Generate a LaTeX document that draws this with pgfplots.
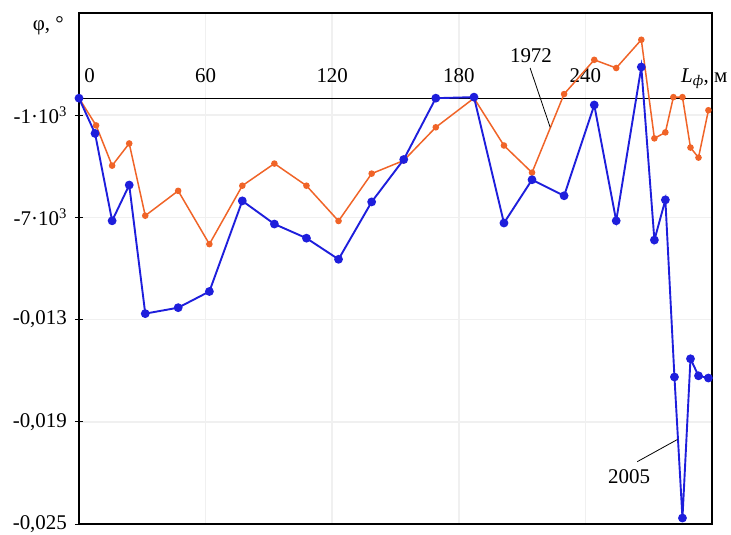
\documentclass[border=0pt]{standalone}
\usepackage{fontspec}
\setmainfont{Liberation Serif}
\usepackage{pgfplots}
\pgfplotsset{compat=1.18}
\definecolor{cblue}{RGB}{30,30,220}
\definecolor{corange}{RGB}{240,100,40}
\begin{document}
\fontsize{21}{24}\selectfont
\begin{tikzpicture}
\useasboundingbox (-79bp,-11bp) rectangle (652bp,524bp);
\begin{axis}[
  at={(0,0)}, anchor=south west,
  scale only axis, width=633bp, height=511bp,
  xmin=0, xmax=300, ymin=-0.025, ymax=0.005,
  clip=false,
  axis line style={line width=1.1bp},
  xtick={60,120,180,240}, xticklabels={},
  major x tick style={draw=none},
  ytick={-0.025,-0.019,-0.013,-0.007,-0.001},
  yticklabels={{-0,025},{-0,019},{-0,013},{-7·10\textsuperscript{3}},{-1·10\textsuperscript{3}}},
  ytick pos=left, tick align=center, major tick length=8bp,
  tick style={black, line width=0.8bp},
  yticklabel style={font=\fontsize{21}{24}\selectfont, xshift=-1bp},
  grid=major, grid style={black!6, line width=1.5bp},
]
\draw[black, line width=0.8bp] (axis cs:0,0) -- (axis cs:300,0);
\draw[black, line width=0.8bp] (axis cs:60,0) ++(0,-4bp) -- ++(0,8bp);
\draw[black, line width=0.8bp] (axis cs:120,0) ++(0,-4bp) -- ++(0,8bp);
\draw[black, line width=0.8bp] (axis cs:180,0) ++(0,-4bp) -- ++(0,8bp);
\draw[black, line width=0.8bp] (axis cs:240,0) ++(0,-4bp) -- ++(0,8bp);
\node[anchor=base] at (axis cs:60,0.0009) {60};
\node[anchor=base] at (axis cs:120,0.0009) {120};
\node[anchor=base] at (axis cs:180,0.0009) {180};
\node[anchor=base] at (axis cs:240,0.0009) {240};
\node[anchor=base] at (axis cs:5,0.0009) {0};
\node[anchor=base west, inner sep=0pt] at (axis cs:285.3,0.0009) {\textit{L}\textsubscript{\textit{ф}}, м};
\node[anchor=base west, inner sep=0pt] at (axis cs:-22,0.0040) {φ, °};

\addplot[corange, line width=1.5bp, mark=*, mark size=2.5bp, mark options={solid, fill=corange}] coordinates {
(0,0) (8.1,-0.0016) (15.7,-0.00396) (23.8,-0.00266) (31.4,-0.0069) (47,-0.00544)
(61.8,-0.00857) (77.4,-0.00514) (92.6,-0.00384) (107.8,-0.00514) (123,-0.00721)
(138.7,-0.00443) (153.9,-0.00366) (169.1,-0.00171) (187.2,0) (201.4,-0.00278)
(214.7,-0.00437) (229.9,0.00024) (244.2,0.00225) (254.6,0.00177) (266.5,0.00343)
(272.7,-0.00236) (277.9,-0.00201) (281.7,0.00006) (286,0.00006) (289.8,-0.0029)
(293.6,-0.00349) (298.3,-0.00071)
};
\addplot[cblue, line width=1.9bp, mark=*, mark size=3.4bp, mark options={solid, fill=cblue}] coordinates {
(0,0) (7.6,-0.00207) (15.7,-0.0072) (23.8,-0.0051) (31.4,-0.01265) (47,-0.0123)
(61.8,-0.01135) (77.4,-0.00603) (92.6,-0.00739) (107.8,-0.00822) (123,-0.00946)
(138.7,-0.00609) (153.9,-0.0036) (169.1,0) (187.2,0.00006) (201.4,-0.00733)
(214.7,-0.00479) (229.9,-0.00573) (244.2,-0.0004) (254.6,-0.0072) (266.5,0.00183)
(272.7,-0.00833) (277.9,-0.00597) (282.2,-0.01637) (286,-0.02465) (289.8,-0.0153)
(293.6,-0.0163) (298.3,-0.01643)
};
\draw[black, line width=0.8bp] (axis cs:213.8,0.00177) -- (axis cs:223.3,-0.00171);
\node[anchor=center] at (axis cs:214.2,0.00248) {1972};
\draw[black, line width=0.8bp] (axis cs:264.6,-0.02134) -- (axis cs:283.6,-0.02004);
\node[anchor=center] at (axis cs:260.7,-0.02224) {2005};
\end{axis}
\end{tikzpicture}
\end{document}
